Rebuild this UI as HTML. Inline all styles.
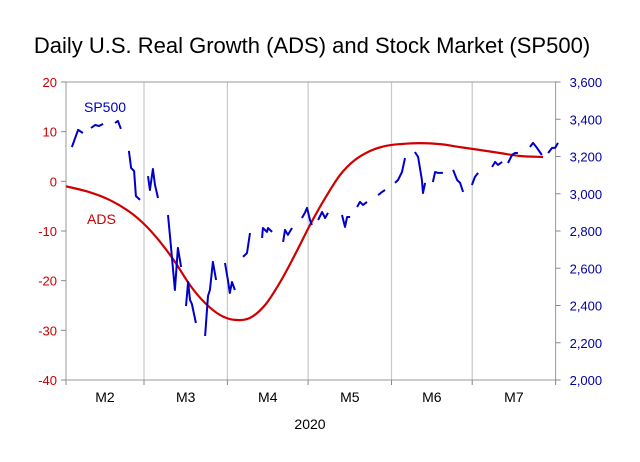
<!DOCTYPE html>
<html><head><meta charset="utf-8"><style>
body{margin:0;background:#fff;}
svg{display:block;font-family:"Liberation Sans",Arial,sans-serif;}
</style></head><body>
<svg id="chart" width="640" height="462" viewBox="0 0 640 462">
<text x="312" y="53" text-anchor="middle" font-size="22" fill="#000">Daily U.S. Real Growth (ADS) and Stock Market (SP500)</text>
<g id="grid"></g><g id="axes"></g><g id="series"></g>
<text x="84" y="112" font-size="14" fill="#0000c0">SP500</text>
<text x="87" y="224" font-size="14" fill="#cc0000">ADS</text>
<text x="310" y="429" text-anchor="middle" font-size="14" fill="#000">2020</text>
</svg>
<script>
const monthLabels=["M2","M3","M4","M5","M6","M7"];
const monthStarts=[0,29,60,90,121,151,182];
const leftTicks=[20,10,0,-10,-20,-30,-40];
const rightTicks=[3600,3400,3200,3000,2800,2600,2400,2200,2000];
const adsDays=[0,8.9,16.4,23.8,29.4,35,40.5,46.1,51.7,57.2,62.8,68.4,74,79.6,85.1,90.7,96.3,101.9,107.4,113,118.6,124.2,131.6,139,146.5,153.9,161.3,168.8,177.3];
const adsVals=[-1,-2.2,-3.8,-6.2,-8.8,-12.2,-16.2,-20.9,-24.5,-26.9,-27.9,-27.5,-24.9,-20.3,-14.8,-8.8,-3.4,1.3,4.3,6.1,7.1,7.5,7.7,7.5,6.9,6.3,5.7,5.1,4.9];
const spDays=[2.2,4.5,6.3,null,9.3,10.8,12.3,13.8,null,18.2,19.3,20.4,null,23.4,24.2,25.3,26,27.5,null,30.5,31.2,32.3,33.1,34.2,null,37.9,39,40.5,41.6,42.8,null,44.6,45.4,46.1,46.8,48.3,null,51.7,52.8,53.5,54.6,55.8,null,59.1,60.2,60.9,61.7,62.8,null,65.8,67.3,68.4,null,72.9,73.2,74.7,75.1,76.6,null,80.7,81.4,82.5,84,null,87.7,88.8,89.6,90.7,91.4,null,93.7,95.2,96.3,97.4,null,102.6,103.7,104.5,105.6,null,108.2,109.3,110.4,111.9,null,116,117.5,118.6,null,122.3,123.4,124.9,126,null,129.7,130.9,132.3,132.7,133.5,null,136.4,137.2,138.3,140.1,null,143.9,145.4,146.5,147.6,null,150.9,152,153.2,null,158.4,159.5,160.6,162.1,null,164.3,165.8,166.9,168,null,172.5,173.6,175.1,176.9,null,179.2,180.7,181.8,182.9];
const spVals=[3251,3343,3326,null,3353,3369,3364,3375,null,3380,3391,3348,null,3230,3138,3122,2988,2967,null,3095,3020,3133,3047,2977,null,2886,2720,2483,2709,2607,null,2397,2526,2430,2408,2306,null,2236,2451,2483,2634,2537,null,2628,2537,2467,2526,2483,null,2661,2682,2789,null,2763,2816,2795,2816,2795,null,2741,2806,2779,2816,null,2870,2897,2924,2859,2832,null,2859,2902,2870,2897,null,2886,2822,2875,2875,null,2929,2956,2940,2956,null,2993,3010,3020,null,3058,3074,3117,3192,null,3224,3198,3074,3004,3058,null,3063,3117,3112,3112,null,3128,3074,3058,3010,null,3047,3090,3112,null,3144,3171,3155,3171,null,3165,3208,3219,3219,null,3251,3273,3246,3208,null,3219,3246,3246,3273];
const X0=66,X1=555.6,Y0=82,Y1=380;
const xS=d=>X0+d/182*(X1-X0);
const yL=v=>Y0+(20-v)/60*(Y1-Y0);
const yR=v=>Y0+(3600-v)/1600*(Y1-Y0);
const NS="http://www.w3.org/2000/svg";
function mk(tag,attrs,parent,text){const e=document.createElementNS(NS,tag);for(const k in attrs)e.setAttribute(k,attrs[k]);if(text!==undefined)e.textContent=text;parent.appendChild(e);return e;}
const grid=document.getElementById('grid'),axes=document.getElementById('axes'),series=document.getElementById('series');
for(let i=1;i<monthStarts.length-1;i++){const x=xS(monthStarts[i]);
const g=mk('line',{x1:x,y1:Y0,x2:x,y2:Y1,stroke:'#c8c8c8','stroke-width':1.2},grid);

}
const fr=mk('rect',{x:X0,y:Y0,width:X1-X0,height:Y1-Y0,fill:'none',stroke:'#999','stroke-width':1},axes);


leftTicks.forEach(v=>{const y=yL(v);mk('line',{x1:X0-5,y1:y,x2:X0,y2:y,stroke:'#888'},axes);
const t=mk('text',{x:X0-9,y:y+5,'text-anchor':'end','font-size':13,fill:'#cc0000'},axes,String(v));

});
rightTicks.forEach(v=>{const y=yR(v);mk('line',{x1:X1,y1:y,x2:X1+5,y2:y,stroke:'#888'},axes);
const t=mk('text',{x:X1+14,y:y+5,'font-size':13,fill:'#0000a0'},axes,v.toLocaleString('en-US'));

});
monthStarts.forEach(d=>mk('line',{x1:xS(d),y1:Y1,x2:xS(d),y2:Y1+5,stroke:'#888'},axes));
monthLabels.forEach((m,i)=>{const t=mk('text',{x:(xS(monthStarts[i])+xS(monthStarts[i+1]))/2,y:Y1+22,'text-anchor':'middle','font-size':14,fill:'#000'},axes,m);

});
const pts=adsDays.map((dd,i)=>[xS(dd),yL(adsVals[i])]);
let d='M'+pts[0][0].toFixed(1)+','+pts[0][1].toFixed(1);
for(let i=0;i<pts.length-1;i++){const p0=pts[Math.max(0,i-1)],p1=pts[i],p2=pts[i+1],p3=pts[Math.min(pts.length-1,i+2)];
const c1=[p1[0]+(p2[0]-p0[0])/6,p1[1]+(p2[1]-p0[1])/6],c2=[p2[0]-(p3[0]-p1[0])/6,p2[1]-(p3[1]-p1[1])/6];
d+='C'+c1.map(v=>v.toFixed(1)).join(',')+' '+c2.map(v=>v.toFixed(1)).join(',')+' '+p2[0].toFixed(1)+','+p2[1].toFixed(1);}
const ads=mk('path',{d:d,fill:'none',stroke:'#d00000','stroke-width':2.2,'stroke-linejoin':'round'},series);


let p='',pen=false;spDays.forEach((dd,i)=>{if(dd===null||spVals[i]===null){pen=false;return;}p+=(pen?'L':'M')+xS(dd).toFixed(1)+','+yR(spVals[i]).toFixed(1);pen=true;});
const sp=mk('path',{d:p,fill:'none',stroke:'#0000c8','stroke-width':2,'stroke-linejoin':'round'},series);


</script>
</body></html>
